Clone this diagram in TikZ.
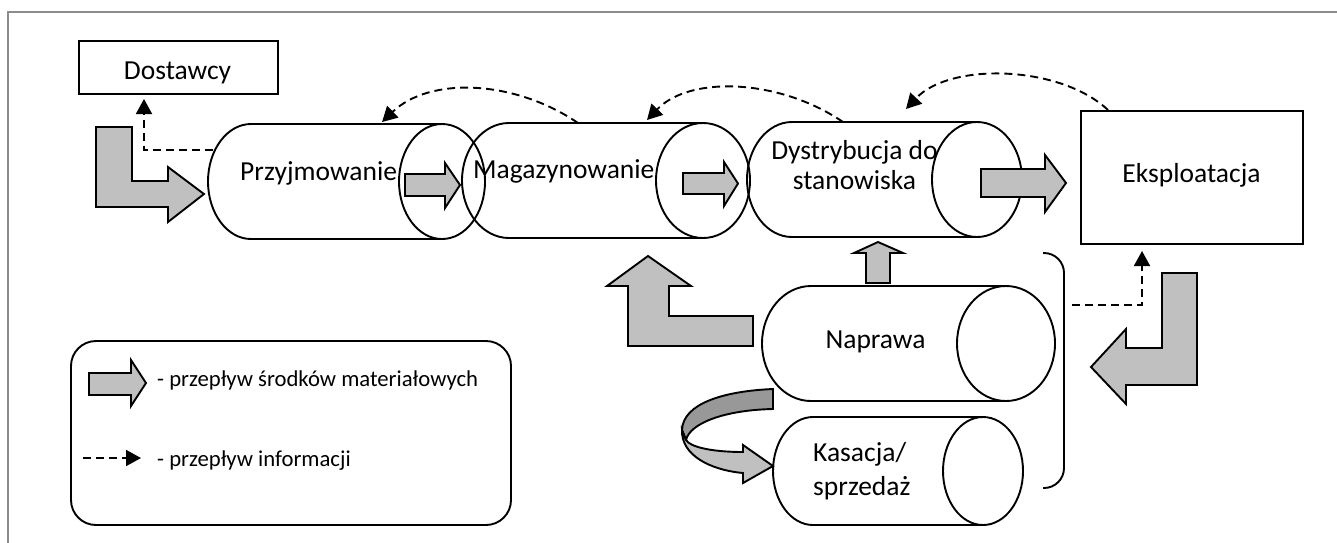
\documentclass[tikz,border=0pt]{standalone}
\usepackage{fontspec}
\setmainfont{Carlito}
\usetikzlibrary{arrows.meta}
\definecolor{arrowgray}{RGB}{192,192,192}
\definecolor{ribbondark}{RGB}{152,152,152}
\definecolor{framegray}{RGB}{140,140,140}

% cylinder: L R T B rx
\newcommand\cylfillX[5]{%
  \pgfmathsetmacro\cylXa{#1+#5}\pgfmathsetmacro\cylXb{#2-#5}%
  \pgfmathsetmacro\cylXc{(#3+#4)/2}\pgfmathsetmacro\cylXr{(#4-#3)/2}%
  \fill[white] (\cylXa,#3) rectangle (\cylXb,#4);
  \fill[white] (\cylXa,\cylXc) ellipse [x radius=#5, y radius=\cylXr];
  \fill[white] (\cylXb,\cylXc) ellipse [x radius=#5, y radius=\cylXr];}
\newcommand\cyldrawX[5]{%
  \pgfmathsetmacro\cylXa{#1+#5}\pgfmathsetmacro\cylXb{#2-#5}%
  \pgfmathsetmacro\cylXc{(#3+#4)/2}\pgfmathsetmacro\cylXr{(#4-#3)/2}%
  \pgfmathsetmacro\cylXk{\cylXa-0.5523*#5}%
  \pgfmathsetmacro\cylXu{\cylXc-0.5523*\cylXr}\pgfmathsetmacro\cylXd{\cylXc+0.5523*\cylXr}%
  \draw[outl] (\cylXb,#3) -- (\cylXa,#3) .. controls (\cylXk,#3) and (#1,\cylXu) .. (#1,\cylXc)
     .. controls (#1,\cylXd) and (\cylXk,#4) .. (\cylXa,#4) -- (\cylXb,#4);
  \draw[outl] (\cylXb,\cylXc) ellipse [x radius=#5, y radius=\cylXr];}

\begin{document}
\begin{tikzpicture}[x=1pt,y=-1pt,
  outl/.style={line width=1.9pt, line join=miter},
  fatarrow/.style={fill=arrowgray, draw=black, line width=1.9pt, line join=miter},
  info/.style={line width=1.9pt, dash pattern=on 8pt off 5pt, -{Triangle[length=15pt,width=16pt]}},
  lbl/.style={font=\fontsize{27.5}{33}\selectfont, inner sep=0pt},
  lgd/.style={font=\fontsize{22.7}{27}\selectfont, inner sep=0pt},
  boxnode/.style={draw, line width=1.9pt, inner sep=0pt, anchor=north west}]
\useasboundingbox (0,0) rectangle (1337,542);

% frame
\draw[framegray, line width=1.5pt] (8,545) -- (8,12) -- (1340,12);

% boxes
\node[boxnode, minimum width=199pt, minimum height=53pt] (dost) at (78,40) {};
\node[boxnode, minimum width=222pt, minimum height=133pt] (eks) at (1080,110) {};

% cylinders: fill first, then outlines
\cylfillX{208}{485}{124}{239}{43}
\cylfillX{462}{750}{123}{238}{47}
\cylfillX{747}{1022}{122}{237}{45}
\cylfillX{762}{1055}{286}{401}{49}
\cylfillX{773}{1023}{417}{525}{40}
\cyldrawX{208}{485}{124}{239}{43}
\cyldrawX{462}{750}{123}{238}{47}
\cyldrawX{747}{1022}{122}{237}{45}
\cyldrawX{762}{1055}{286}{401}{49}
\cyldrawX{773}{1023}{417}{525}{40}

% labels
\node[lbl, anchor=base] (dostT) at (177.5,79) {Dostawcy};
\node[lbl, anchor=base west] (prz) at (240,180.5) {Przyjmowanie};
\node[lbl, anchor=base west] (mag) at (473,178) {Magazynowanie};
\node[lbl, anchor=base] (dys1) at (854.5,159.5) {Dystrybucja do};
\node[lbl, anchor=base] (dys2) at (854.5,189.5) {stanowiska};
\node[lbl, anchor=base] (eksT) at (1191.5,182) {Eksploatacja};
\node[lbl, anchor=base] (nap) at (875.5,348) {Naprawa};
\node[lbl, anchor=base west] (kas1) at (813,461) {Kasacja/};
\node[lbl, anchor=base west] (kas2) at (813,495) {sprzedaż};

% fat arrows
\draw[fatarrow] (96,127) -- (132,127) -- (132,181) -- (168,181) -- (168,167) -- (204,194) -- (168,222) -- (168,207) -- (96,207) -- cycle;
\draw[fatarrow] (405,174) -- (445,174) -- (445,163) -- (460,185) -- (445,208) -- (445,196) -- (405,196) -- cycle;
\draw[fatarrow] (683,173) -- (724,173) -- (724,162) -- (738,183.5) -- (724,206) -- (724,194) -- (683,194) -- cycle;
\draw[fatarrow] (981,169) -- (1045,169) -- (1045,155) -- (1066,183) -- (1045,212) -- (1045,197) -- (981,197) -- cycle;
\draw[fatarrow] (866,283) -- (866,253) -- (854,253) -- (878,242) -- (903,253) -- (890,253) -- (890,283) -- cycle;
\draw[fatarrow] (753,316) -- (669,316) -- (669,286) -- (691,286) -- (648,256) -- (607,286) -- (628,286) -- (628,346) -- (753,346) -- cycle;
\draw[fatarrow] (1162,273) -- (1197,273) -- (1197,385) -- (1126,385) -- (1126,404) -- (1091,367) -- (1126,329) -- (1126,348) -- (1162,348) -- cycle;

% curved ribbon arrow (Naprawa -> Kasacja)
\draw[outl, fill=ribbondark] (773,389) .. controls (725,391) and (683,403) .. (682,430) -- (686,440)
   .. controls (690,423) and (725,410) .. (773,409) -- cycle;
\draw[outl, fill=arrowgray] (682,430) .. controls (681,455) and (710,470) .. (743,473) -- (743,483) -- (773,466)
   -- (743,445) -- (743,452) .. controls (712,452) and (690,447) .. (686,440) -- cycle;

% bracket
\draw[outl, rounded corners=20pt] (1043,253) -- (1064,253) -- (1064,488) -- (1043,488);

% information flows
\coordinate (przL) at (213,150);
\coordinate (przC) at (144,150);
\coordinate (dostB) at (144,99);
\draw[info] (przL) -- (przC) -- (dostB);

\coordinate (magTop) at (578,123);
\coordinate (przTip) at (382,122);
\draw[info] (magTop) .. controls (515,80) and (430,76) .. (przTip);
\coordinate (dysTop) at (843,122);
\coordinate (magTip) at (647,120);
\draw[info] (dysTop) .. controls (780,79) and (690,75) .. (magTip);
\coordinate (eksTop) at (1108,110);
\coordinate (dysTip) at (906,109);
\draw[info] (eksTop) .. controls (1060,65) and (950,62) .. (dysTip);

\coordinate (brk) at (1072,305);
\coordinate (brkC) at (1142,305);
\coordinate (eksB) at (1142,251);
\draw[info] (brk) -- (brkC) -- (eksB);

% legend
\draw[outl, rounded corners=25pt] (71,341) rectangle (511,525);
\draw[fatarrow] (89,373) -- (131,373) -- (131,360) -- (146,383) -- (131,406) -- (131,395) -- (89,395) -- cycle;
\coordinate (lg1) at (83,458);
\coordinate (lg2) at (141,458);
\draw[info] (lg1) -- (lg2);
\node[lgd, anchor=base west] (lgA) at (157,386) {- przepływ środków materiałowych};
\node[lgd, anchor=base west] (lgB) at (157,466) {- przepływ informacji};
\end{tikzpicture}
\end{document}
